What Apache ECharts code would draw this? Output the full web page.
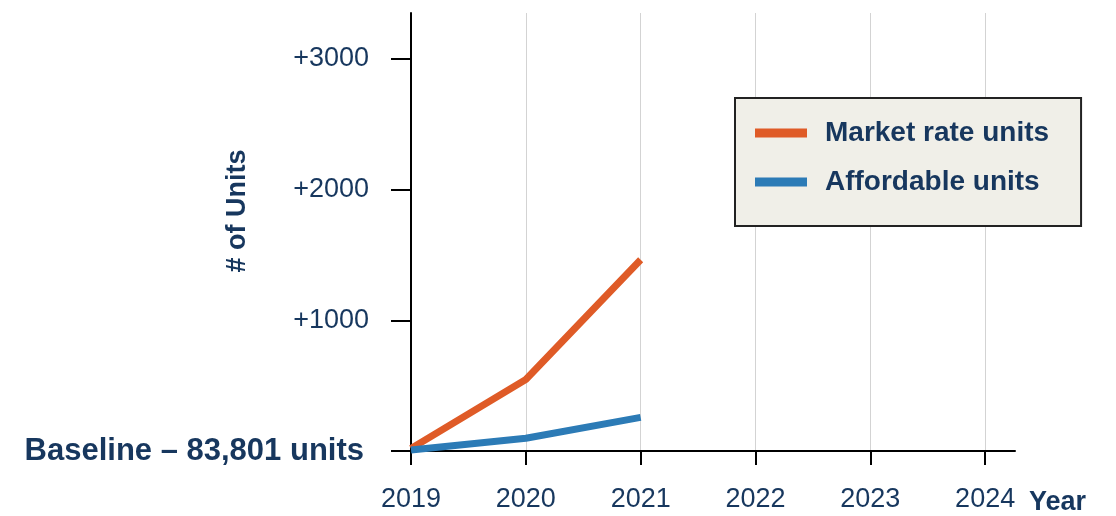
<!DOCTYPE html>
<html>
<head>
<meta charset="utf-8">
<script src="https://cdn.jsdelivr.net/npm/echarts@6/dist/echarts.min.js"></script>
<style>html,body{margin:0;padding:0;background:#fff}#c{width:1116px;height:516px}</style>
</head>
<body>
<div id="c"></div>
<script>
const years = [2019, 2020, 2021];
const marketRate = [20, 547, 1463];
const affordable = [8, 97, 257];
const seriesNames = ['Market rate units', 'Affordable units'];
const yTicks = [0, 1000, 2000, 3000];
const xTicks = [2019, 2020, 2021, 2022, 2023, 2024];
const baselineLabel = 'Baseline \u2013 83,801 units';
const xAxisName = 'Year';
const yAxisName = '# of Units';

const navy = '#17375e';
const font = "'Liberation Sans', Arial, sans-serif";
const pairs = (vals) => years.map((y, i) => [y, vals[i]]);

const chart = echarts.init(document.getElementById('c'), null, {renderer: 'canvas'});
chart.setOption({
  animation: false,
  backgroundColor: '#ffffff',
  grid: {left: 411, right: 101, top: 13, bottom: 64},
  legend: {
    orient: 'vertical',
    left: 735, top: 98,
    padding: [21, 32, 30, 20],
    backgroundColor: '#f0efe8',
    borderColor: '#222222',
    borderWidth: 2,
    itemWidth: 52, itemHeight: 9,
    itemGap: 21,
    icon: 'rect',
    textStyle: {color: navy, fontFamily: font, fontWeight: 'bold', fontSize: 28, padding: [0, 0, 0, 13]},
    data: seriesNames
  },
  xAxis: {
    type: 'value',
    min: 2019, max: 2024.26, interval: 1,
    name: xAxisName,
    nameLocation: 'end',
    nameGap: 14,
    nameMoveOverlap: false,
    nameTextStyle: {color: navy, fontFamily: font, fontWeight: 'bold', fontSize: 27, verticalAlign: 'top', align: 'left', padding: [38, 0, 0, 0]},
    axisLine: {show: true, onZero: false, lineStyle: {color: '#000', width: 2}},
    axisTick: {show: true, length: 14, customValues: xTicks, lineStyle: {color: '#000', width: 2}},
    axisLabel: {color: navy, fontFamily: font, fontSize: 27, margin: 35, customValues: xTicks, formatter: (v) => String(Math.round(v))},
    splitLine: {show: true, lineStyle: {color: '#d3d3d3', width: 1}}
  },
  yAxis: {
    type: 'value',
    min: 0, max: 3350, interval: 1000,
    name: yAxisName,
    nameLocation: 'middle',
    nameRotate: 90,
    nameGap: 160,
    nameMoveOverlap: false,
    nameTextStyle: {color: navy, fontFamily: font, fontWeight: 'bold', fontSize: 27, padding: [0, 0, 0, 42]},
    axisLine: {show: true, lineStyle: {color: '#000', width: 2}},
    axisTick: {show: true, length: 20, customValues: yTicks, lineStyle: {color: '#000', width: 2}},
    axisLabel: {
      color: navy, fontFamily: font, fontSize: 27, margin: 42,
      customValues: yTicks,
      formatter: (v) => v === 0 ? '{b|' + baselineLabel + '}' : '+' + v,
      rich: {b: {color: navy, fontFamily: font, fontWeight: 'bold', fontSize: 31, padding: [0, 5, 0, 0]}}
    },
    splitLine: {show: false}
  },
  series: [
    {name: seriesNames[0], type: 'line', data: pairs(marketRate), showSymbol: false, symbol: 'none',
     lineStyle: {color: '#df5b27', width: 7, cap: 'butt'}, itemStyle: {color: '#df5b27'}, z: 3},
    {name: seriesNames[1], type: 'line', data: pairs(affordable), showSymbol: false, symbol: 'none',
     lineStyle: {color: '#2c7bb6', width: 7, cap: 'butt'}, itemStyle: {color: '#2c7bb6'}, z: 4}
  ]
});
</script>
</body>
</html>
